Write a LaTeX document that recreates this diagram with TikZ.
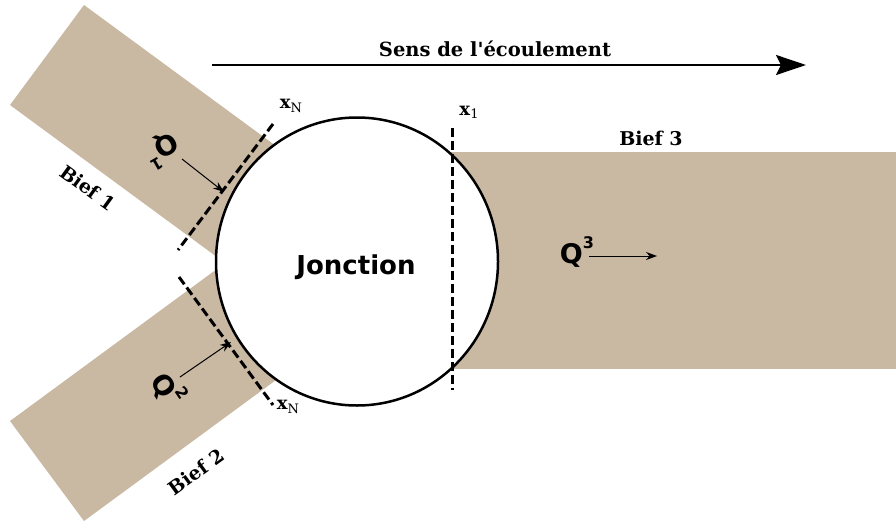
\documentclass[tikz,border=0pt]{standalone}
\usepackage{fontspec}
\setmainfont{DejaVu Serif}
\newfontfamily\sansfam{DejaVu Sans}
\usetikzlibrary{arrows.meta,shapes.geometric}
\definecolor{biefcol}{RGB}{201,184,162}
\newcommand{\xsub}[1]{\textbf{x}\raisebox{-0.35ex}{\fontsize{13}{13}\selectfont #1}}
\newcommand{\qsup}[1]{Q\raisebox{1.0ex}{\fontsize{16}{16}\selectfont #1}}
\begin{document}
\begin{tikzpicture}[x=1pt,y=-1pt,
  bief/.style={fill=biefcol,draw=none},
  sectionline/.style={line width=3pt,dash pattern=on 9pt off 4pt},
  flow/.style={line width=1pt,-{Stealth[length=11pt,width=8pt]}},
  lab/.style={font=\bfseries\fontsize{19}{19}\selectfont,inner sep=0pt},
  qlab/.style={font=\sansfam\bfseries\fontsize{27}{27}\selectfont,inner sep=0pt},
  xlab/.style={font=\fontsize{18}{18}\selectfont,inner sep=0pt}
]
\path[use as bounding box] (0,0) rectangle (896,522);
\fill[white] (0,0) rectangle (896,522);
% channels
\fill[bief] (84,5) -- (10,105) -- (251.8,282.6) -- (325.8,182.6) -- cycle;
\fill[bief] (84,521) -- (10,421) -- (251.8,243.4) -- (325.8,343.4) -- cycle;
\fill[bief] (400,152) rectangle (896,369);
% junction
\node[draw=black,line width=2.5pt,fill=white,ellipse,minimum width=282pt,minimum height=288pt,inner sep=0pt] (jn) at (357,261.5) {};
\node[font=\sansfam\bfseries\fontsize{26}{26}\selectfont] (jt) at (356,267) {Jonction};
% section lines
\coordinate (s1a) at (273,124); \coordinate (s1b) at (178,250);
\coordinate (s2a) at (179,277); \coordinate (s2b) at (273,405);
\coordinate (s3a) at (452,128); \coordinate (s3b) at (452,390);
\draw[sectionline] (s1a) -- (s1b);
\draw[sectionline] (s2a) -- (s2b);
\draw[sectionline] (s3a) -- (s3b);
% flow direction
\coordinate (fa) at (212,65); \coordinate (fb) at (806,65);
\draw[line width=2.4pt,-{Stealth[length=30pt,width=20pt,inset=5pt]}] (fa) -- (fb);
\node[lab,font=\bfseries\fontsize{19.5}{19.5}\selectfont] (sens) at (495,49) {Sens de l\textquotesingle écoulement};
% labels
\node[xlab] (xn1) at (291,106) {\xsub{N}};
\node[xlab] (xn2) at (288,407) {\xsub{N}};
\node[xlab] (x1) at (469,112) {\xsub{1}};
\node[lab] (b3) at (651,138) {Bief 3};
\node[lab,rotate=-36] (b1) at (88,188) {Bief 1};
\node[lab,rotate=36] (b2) at (196,472) {Bief 2};
% discharges
\node[qlab] (q3) at (577,252) {\qsup{3}};
\coordinate (q3s) at (589,256); \coordinate (q3e) at (657,256);
\draw[flow] (q3s) -- (q3e);
\node[qlab,rotate=210] (q1) at (162,150) {\qsup{1}};
\coordinate (q1s) at (182,159); \coordinate (q1e) at (224,192);
\draw[flow] (q1s) -- (q1e);
\node[qlab,rotate=-56] (q2) at (168,389) {\qsup{2}};
\coordinate (q2s) at (180,377); \coordinate (q2e) at (231,342);
\draw[flow] (q2s) -- (q2e);
\end{tikzpicture}
\end{document}
